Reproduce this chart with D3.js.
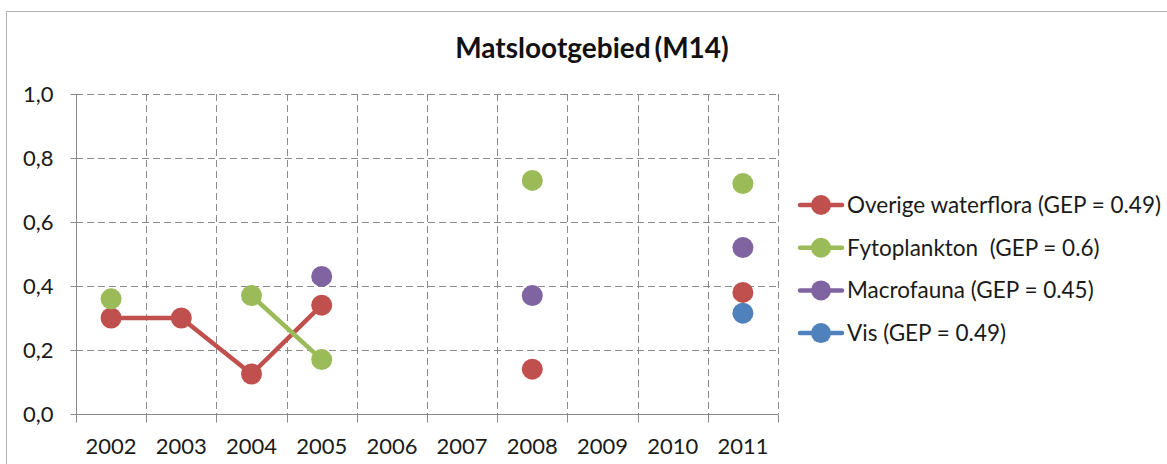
<!DOCTYPE html>
<html>
<head>
<meta charset="utf-8">
<script src="https://cdn.jsdelivr.net/npm/d3@7"></script>
<style>
  html, body { margin: 0; padding: 0; background: #fff; }
  svg { display: block; font-family: Lato, "Open Sans", sans-serif; }
</style>
</head>
<body>
<svg id="chart" width="1167" height="464"></svg>
<script>
// Jaren en EKR-scores per kwaliteitselement (null = geen meting)
const years = ["2002", "2003", "2004", "2005", "2006", "2007", "2008", "2009", "2010", "2011"];
const overigeWaterflora = [0.30, 0.30, 0.125, 0.34, null, null, 0.14, null, null, 0.38];
const fytoplankton      = [0.36, null, 0.37, 0.17, null, null, 0.73, null, null, 0.72];
const macrofauna        = [null, null, null, 0.43, null, null, 0.37, null, null, 0.52];
const vis               = [null, null, null, null, null, null, null, null, null, 0.315];
const seriesNames = [
  "Overige waterflora (GEP = 0.49)",
  "Fytoplankton  (GEP = 0.6)",
  "Macrofauna (GEP = 0.45)",
  "Vis (GEP = 0.49)"
];
const yTicks = [0, 0.2, 0.4, 0.6, 0.8, 1.0];
const title = "Matslootgebied (M14)";

const colors = ["#C0504D", "#9BBB59", "#8064A2", "#4F81BD"];
const series = [overigeWaterflora, fytoplankton, macrofauna, vis].map((vals, i) => ({
  name: seriesNames[i],
  color: colors[i],
  values: vals.map((v, j) => ({ year: years[j], value: v }))
}));

const svg = d3.select("#chart");
const plot = { left: 76, right: 778, top: 94, bottom: 414 };

const x = d3.scaleBand().domain(years).range([plot.left, plot.right]).padding(0);
const y = d3.scaleLinear().domain([0, 1]).range([plot.bottom, plot.top]);
const nl = d3.formatLocale({ decimal: ",", thousands: ".", grouping: [3], currency: ["€", ""] });
const fmt = nl.format(".1f");

// Outer chart frame
svg.append("rect")
  .attr("x", 6.5).attr("y", 11.5)
  .attr("width", 1180).attr("height", 470)
  .attr("fill", "none").attr("stroke", "#b3b3b3").attr("stroke-width", 1);

// Title
svg.append("text")
  .attr("x", 592).attr("y", 58)
  .attr("text-anchor", "middle")
  .attr("font-size", 28).attr("font-weight", "bold").attr("fill", "#111")
  .attr("word-spacing", -3)
  .text(title);

const grid = svg.append("g").attr("stroke", "#8a8a8a").attr("stroke-width", 1)
  .attr("stroke-dasharray", "7,4").attr("fill", "none");

// Horizontal gridlines
grid.selectAll("line.h").data(yTicks.filter(t => t > 0)).join("line")
  .attr("x1", plot.left).attr("x2", plot.right)
  .attr("y1", d => Math.round(y(d)) + 0.5).attr("y2", d => Math.round(y(d)) + 0.5);

// Vertical gridlines at category boundaries
const bounds = years.map(yr => x(yr)).concat([plot.right]);
grid.selectAll("line.v").data(bounds.slice(1)).join("line")
  .attr("x1", d => Math.round(d) + 0.5).attr("x2", d => Math.round(d) + 0.5)
  .attr("y1", plot.top).attr("y2", plot.bottom);

// Y axis
const yAxis = svg.append("g")
  .attr("transform", `translate(${plot.left + 0.5},0)`)
  .call(d3.axisLeft(y).tickValues(yTicks).tickFormat(fmt).tickSize(6).tickPadding(17));
yAxis.select(".domain").attr("stroke", "#8a8a8a").attr("d", `M0,${plot.top}V${plot.bottom}`);
yAxis.selectAll(".tick line").attr("stroke", "#8a8a8a");
yAxis.selectAll(".tick text").attr("font-size", 22).attr("fill", "#1a1a1a")
  .attr("font-family", "Lato, sans-serif");

// X axis: labels centred in each band, ticks at band boundaries
const xAxis = svg.append("g").attr("transform", `translate(0,${plot.bottom + 0.5})`);
xAxis.append("line").attr("x1", plot.left).attr("x2", plot.right)
  .attr("stroke", "#8a8a8a");
xAxis.selectAll("line.tk").data(bounds).join("line")
  .attr("x1", d => Math.round(d) + 0.5).attr("x2", d => Math.round(d) + 0.5)
  .attr("y1", 0).attr("y2", 8).attr("stroke", "#8a8a8a");
xAxis.selectAll("text").data(years).join("text")
  .attr("x", d => x(d) + x.bandwidth() / 2).attr("y", 39)
  .attr("text-anchor", "middle").attr("font-size", 22).attr("fill", "#1a1a1a")
  .text(d => d);

// Series lines and markers
const line = d3.line()
  .defined(d => d.value !== null)
  .x(d => x(d.year) + x.bandwidth() / 2)
  .y(d => y(d.value));

const sg = svg.append("g").selectAll("g").data(series).join("g");
sg.append("path")
  .attr("d", d => line(d.values))
  .attr("fill", "none").attr("stroke", d => d.color)
  .attr("stroke-width", 4.5).attr("stroke-linejoin", "round");
sg.each(function (s) {
  d3.select(this).selectAll("circle").data(s.values.filter(v => v.value !== null)).join("circle")
    .attr("cx", d => x(d.year) + x.bandwidth() / 2)
    .attr("cy", d => y(d.value))
    .attr("r", 10.5)
    .attr("fill", s.color);
});

// Legend
const lg = svg.append("g").selectAll("g").data(series).join("g")
  .attr("transform", (d, i) => `translate(800,${205 + i * 42.7})`);
lg.append("line").attr("x1", 0).attr("x2", 42)
  .attr("stroke", d => d.color).attr("stroke-width", 4.5).attr("stroke-linecap", "round");
lg.append("circle").attr("cx", 21).attr("r", 10).attr("fill", d => d.color);
lg.append("text").attr("x", 47).attr("dy", "0.35em")
  .attr("font-size", 22.5).attr("fill", "#1a1a1a")
  .style("white-space", "pre")
  .text(d => d.name);
</script>
</body>
</html>
